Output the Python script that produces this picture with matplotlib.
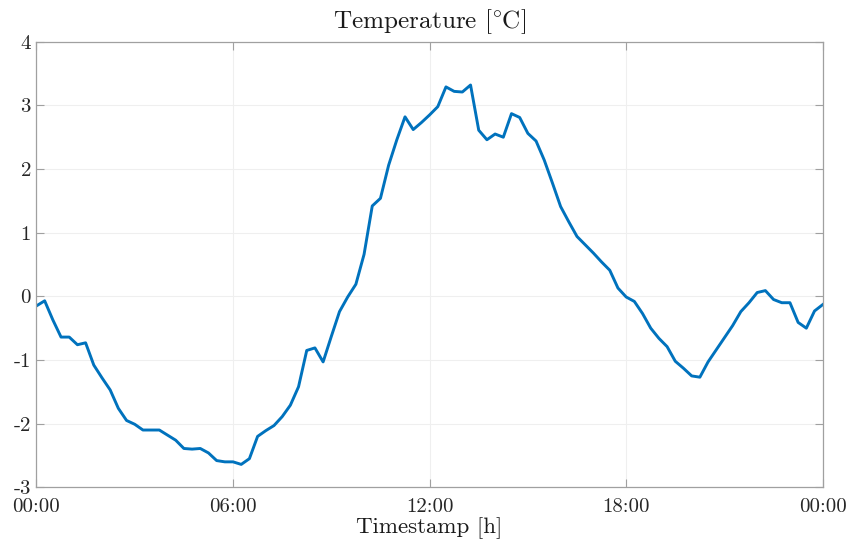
import numpy as np
import matplotlib
matplotlib.use('Agg')
import matplotlib.pyplot as plt

# font like the LaTeX output of the original
plt.rcParams['font.family'] = 'serif'
plt.rcParams['font.serif'] = ['cmr10']
plt.rcParams['mathtext.fontset'] = 'cm'
plt.rcParams['axes.unicode_minus'] = False

# temperature every 15 minutes, 00:00 -> 00:00 next day
temperature = [
    -0.15, -0.07, -0.37, -0.64, -0.64, -0.76, -0.73, -1.08, -1.28, -1.47,
    -1.76, -1.95, -2.01, -2.10, -2.10, -2.10, -2.18, -2.26, -2.39, -2.40,
    -2.39, -2.46, -2.58, -2.60, -2.60, -2.64, -2.55, -2.20, -2.11, -2.03,
    -1.89, -1.71, -1.42, -0.85, -0.81, -1.03, -0.63, -0.24, -0.01, 0.19,
    0.66, 1.42, 1.54, 2.06, 2.46, 2.82, 2.62, 2.73, 2.85, 2.98,
    3.29, 3.22, 3.21, 3.32, 2.61, 2.46, 2.55, 2.50, 2.87, 2.81,
    2.56, 2.44, 2.14, 1.78, 1.41, 1.17, 0.94, 0.81, 0.68, 0.54,
    0.41, 0.13, -0.01, -0.08, -0.27, -0.50, -0.66, -0.79, -1.02, -1.13,
    -1.25, -1.27, -1.03, -0.84, -0.65, -0.46, -0.24, -0.10, 0.06, 0.09,
    -0.05, -0.10, -0.10, -0.41, -0.50, -0.23, -0.13,
]
hours = np.arange(len(temperature)) * 0.25

xtick_pos = [0, 6, 12, 18, 24]
xtick_labels = ['00:00', '06:00', '12:00', '18:00', '00:00']
ytick_pos = [-3, -2, -1, 0, 1, 2, 3, 4]
ytick_labels = ['-3', '-2', '-1', '0', '1', '2', '3', '4']

fig = plt.figure(figsize=(8.5, 5.39), dpi=100)
ax = fig.add_axes([0.0429, 0.0959, 0.925, 0.8267])

ax.plot(hours, temperature, color='#0072BD', linewidth=2.1)

ax.set_xlim(0, 24)
ax.set_ylim(-3, 4)
ax.set_xticks(xtick_pos)
ax.set_xticklabels(xtick_labels)
ax.set_yticks(ytick_pos)
ax.set_yticklabels(ytick_labels)

ax.grid(True, color='#efefef', linewidth=0.8)
ax.set_axisbelow(True)
for s in ax.spines.values():
    s.set_color('#a0a0a0')
    s.set_linewidth(0.9)
ax.tick_params(direction='in', length=5.5, width=0.8, color='#a0a0a0',
               top=True, right=True, labelsize=15, labelcolor='#262626')
ax.tick_params(axis='x', pad=8)
ax.tick_params(axis='y', pad=4)

ax.set_title(r'Temperature [$\!^\circ\!$C]', fontsize=18.2, color='#1a1a1a', pad=10)
ax.set_xlabel('Timestamp [h]', fontsize=16.5, color='#1a1a1a', labelpad=1)

fig.savefig('out.png', dpi=100)
